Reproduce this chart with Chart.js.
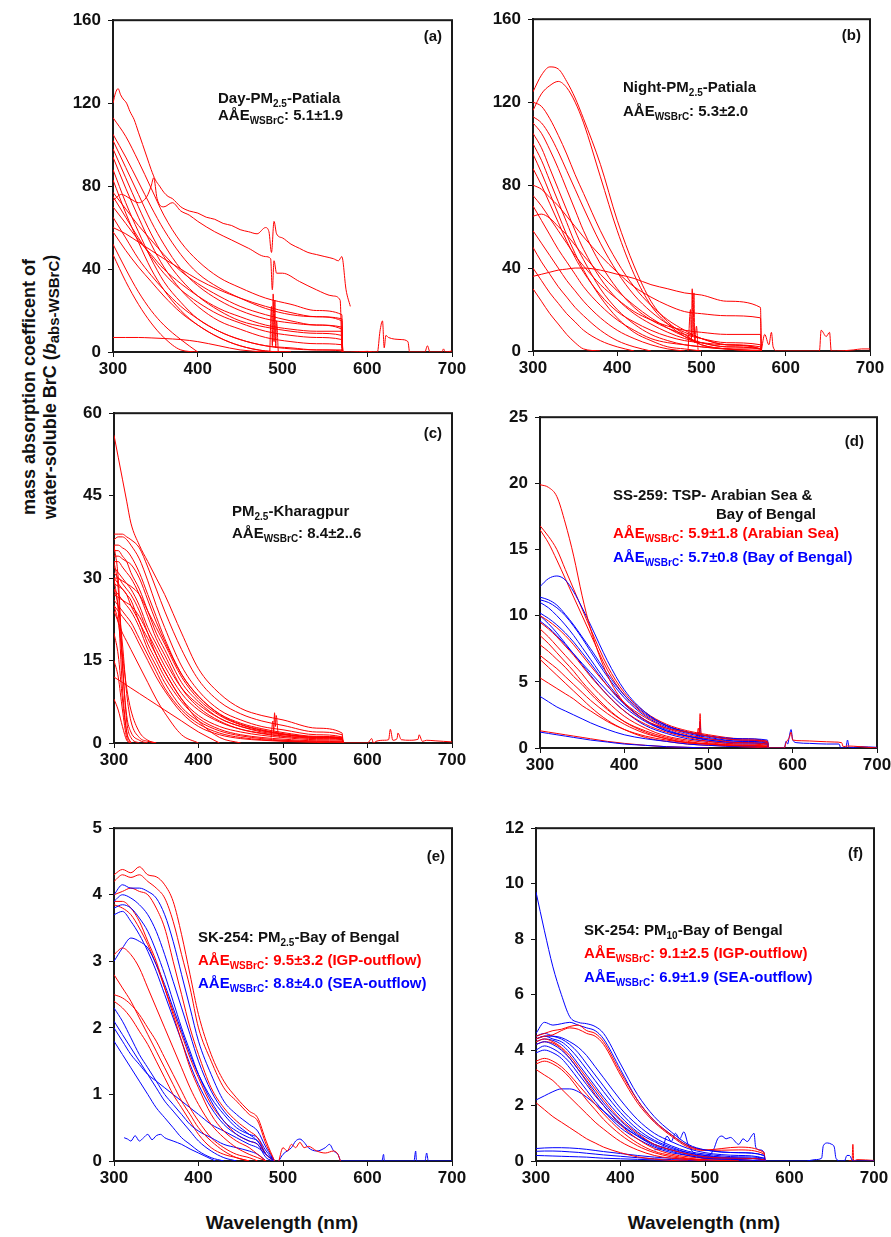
<!DOCTYPE html>
<html>
<head>
<meta charset="utf-8">
<script src="https://cdn.jsdelivr.net/npm/chart.js@4.4.1/dist/chart.umd.min.js"></script>
<style>
  body { margin: 0; background: #fff; width: 891px; height: 1237px; position: relative; overflow: hidden;
         font-family: "Liberation Sans", Arial, sans-serif; }
  .panel { position: absolute; }
  #ytitle { position: absolute; left: -115px; top: 366px; width: 310px; text-align: center;
            font-weight: bold; font-size: 18px; line-height: 21px; transform: rotate(-90deg); color: #111; }
  #ytitle sub { font-size: 15px; vertical-align: -3px; line-height: 0; }
  .xtitle { position: absolute; top: 1212px; width: 220px; text-align: center; font-weight: bold; font-size: 19px; color: #111; }
</style>
</head>
<body>
<div id="ytitle">mass absorption coefficent of<br>water-soluble BrC (<i>b</i><sub>abs-WSBrC</sub>)</div>
<div class="xtitle" style="left:172px">Wavelength (nm)</div>
<div class="xtitle" style="left:594px">Wavelength (nm)</div>

<script>
// ---------- shared axis ----------
const xTicks = [300, 400, 500, 600, 700];

// ---------- (a) Day-PM2.5-Patiala ----------
const aWave = [300, 315, 330, 345, 360, 380, 400, 425, 450, 480, 510, 540, 570, 571];
const a1 = [113, 104, 92, 79, 66, 53, 44, 36, 31, 26, 23, 20, 18, 0];
const a2 = [105, 94, 82, 70, 59, 47, 38, 31, 26, 21, 18, 17, 16, 0];
const a3 = [102, 89, 76, 63, 52, 40, 32, 25, 20, 16, 14, 13, 12, 0];
const a4 = [98, 84, 70, 57, 46, 35, 27, 20, 15, 12, 10, 9, 8, 0];
const a5 = [94, 79, 65, 52, 41, 30, 22, 15, 11, 7, 5, 4, 3.5, 0];
const a6 = [88, 72, 58, 45, 34, 24, 16, 10, 6, 3, 1.5, 1, 0.5, 0];
const a7 = [83, 67, 53, 40, 30, 20, 13, 7, 3, 0.5, 0];
const a8 = [77, 69, 61, 54, 47, 39, 33, 27, 22, 18, 15, 13, 11, 0];
const a9 = [75, 65, 55, 46, 38, 30, 24, 18, 14, 10, 8, 7, 6, 0];
const a10 = [70, 62, 54, 47, 40, 33, 27, 21, 17, 13, 11, 10, 10, 0];
const a11 = [65, 55, 45, 37, 30, 22, 16, 10, 6, 3, 2, 1, 1, 0];
const a12 = [60, 57, 53, 49, 45, 40, 35, 30, 26, 22, 19, 17, 15, 0];
const a13 = [58, 49, 41, 34, 27, 19, 13, 7, 3, 0.5, 0];
const a14 = [52, 40, 29, 20, 13, 6, 0];
const a15 = [47, 34, 23, 14, 7, 1, 0];
const a16 = [7, 7, 7, 6.8, 6.5, 6, 5, 3, 1, 0];
const aNoisy1X = [300, 303, 306, 309, 312, 316, 320, 325, 330, 335, 340, 345, 350, 355, 360, 365, 370, 375, 380, 390, 400, 410, 420, 430, 440, 450, 460, 470, 480, 484, 487, 490, 493, 500, 510, 520, 530, 540, 550, 560, 566, 570, 575, 580];
const aNoisy1Y = [120, 125, 127, 124, 122, 120, 116, 112, 106, 100, 94, 88, 83, 80, 77, 75, 74, 72, 70, 68, 67, 65, 64, 62, 61, 59, 58, 57, 60, 58, 48, 63, 57, 55, 52, 50, 48, 47, 46, 45, 44, 46, 30, 22];
const aNoisy2X = [300, 310, 320, 330, 340, 345, 348, 352, 360, 370, 380, 390, 400, 420, 440, 460, 480, 486, 488, 490, 493, 500, 520, 540, 560, 568, 570];
const aNoisy2Y = [73, 76, 74, 72, 75, 80, 84, 74, 70, 72, 68, 66, 63, 58, 54, 50, 46, 45, 30, 44, 38, 38, 34, 30, 27, 25, 0];
const aSpikeX = [485, 487, 488, 489, 490, 491, 492, 493, 495];
const aSpikeY = [0, 22, 3, 28, 5, 25, 2, 15, 0];
const aTailX = [571, 580, 600, 612, 615, 618, 620, 622, 625, 640, 648, 650, 660, 668, 671, 674, 688, 690, 692, 700];
const aTailY = [0, 0, 0.3, 0, 10, 15, 2, 8, 7, 6, 5, 0, 0, 0, 3, 0, 0, 1.5, 0, 0.5];

// ---------- (b) Night-PM2.5-Patiala ----------
const bWave = [300, 310, 320, 330, 340, 350, 360, 380, 400, 420, 440, 460, 480, 500, 530, 570, 571];
const b1 = [125, 133, 137, 136, 130, 122, 112, 90, 63, 41, 24, 14, 8, 3, 1, 0];
const b2 = [116, 124, 128, 130, 127, 120, 110, 84, 58, 37, 22, 13, 7, 3, 1, 0];
const b3 = [120, 118, 112, 104, 95, 85, 76, 58, 43, 31, 22, 15, 10, 6, 3, 1, 0];
const b4 = [113, 110, 104, 96, 87, 78, 69, 52, 38, 27, 19, 13, 9, 6, 3, 1, 0];
const b5 = [110, 105, 97, 88, 78, 68, 58, 42, 30, 21, 15, 11, 8, 6, 4, 3, 0];
const b6 = [105, 98, 88, 78, 68, 58, 49, 35, 25, 18, 13, 9, 6, 4, 2, 1, 0];
const b7 = [100, 92, 82, 72, 62, 52, 44, 30, 20, 13, 8, 5, 3, 2, 1, 0];
const b8 = [95, 86, 76, 66, 56, 47, 39, 26, 16, 9, 5, 2, 1, 0];
const b9 = [88, 80, 71, 62, 53, 45, 38, 27, 19, 14, 10, 7, 5, 4, 3, 2, 0];
const b10 = [36, 37, 38, 39, 39.5, 40, 40, 39, 37, 35, 32, 30, 28, 27, 24, 21, 0];
const b11 = [80, 78, 74, 70, 65, 60, 55, 46, 38, 31, 26, 22, 19, 18, 17, 16, 0];
const b12 = [75, 70, 64, 58, 52, 46, 41, 32, 25, 19, 15, 12, 10, 9, 8, 8, 0];
const b13 = [70, 63, 56, 49, 43, 37, 31, 22, 15, 10, 6, 4, 3, 2, 1, 1, 0];
const b14 = [65, 66, 64, 60, 56, 51, 46, 37, 29, 22, 16, 11, 7, 4, 2, 1, 0];
const b15 = [58, 52, 46, 40, 34, 29, 24, 16, 10, 6, 3, 1, 0];
const b16 = [50, 43, 37, 31, 26, 21, 17, 10, 5, 2, 0];
const b17 = [30, 24, 18, 13, 8, 4, 1, 0];
const b18 = [40, 34, 28, 23, 18, 14, 10, 5, 2, 0];
const bSpikeX = [484, 487, 488, 489, 490, 491, 492, 494, 496];
const bSpikeY = [0, 20, 5, 30, 8, 28, 4, 12, 0];
const bTailX = [571, 575, 580, 583, 585, 590, 640, 642, 648, 652, 654, 656, 660, 680, 690, 700];
const bTailY = [0, 8, 3, 9, 2, 0, 0, 10, 7, 9, 0, 0, 0, 0.5, 1, 1];

// ---------- (c) PM2.5-Kharagpur ----------
const cWave = [300, 305, 310, 315, 320, 330, 340, 350, 360, 380, 400, 425, 450, 475, 500, 540, 570, 571];
const c1 = [56, 52, 48, 44, 40, 36, 33, 30, 27, 20, 13.5, 9, 6.3, 5, 4.2, 2.7, 1.8, 0];
const c2 = [38, 38, 38, 37.5, 37, 35.5, 32, 28, 24, 17, 11.5, 7.5, 5.3, 4, 3.2, 2, 1.5, 0];
const c3 = [37, 37.5, 37.5, 37, 36, 33.5, 29.5, 25, 21, 14, 9.5, 6, 4.2, 3, 2.4, 1.5, 1.1, 0];
const c4 = [36, 36, 35.5, 35, 34, 31, 27, 23, 19, 12.5, 8.5, 5.3, 3.6, 2.6, 1.9, 1.2, 1, 0];
const c5 = [35, 35, 34, 33, 31, 28, 24, 20, 17, 11, 7.5, 4.5, 3, 2, 1.5, 1, 0.8, 0];
const c6 = [33, 33, 32, 31, 30, 27, 23, 19, 16, 10, 6.5, 4, 2.5, 1.7, 1.2, 0.8, 0.6, 0];
const c7 = [32, 31, 30, 29, 28, 25, 21, 18, 15, 10, 7, 4.5, 3, 2.2, 1.6, 1.1, 0.9, 0];
const c8 = [30, 30, 29, 28, 27, 24, 20, 16, 13, 8, 5, 3, 2, 1.4, 1, 0.6, 0.5, 0];
const c9 = [29, 28.5, 28, 27, 25, 22, 18, 15, 12, 7.5, 4.5, 2.5, 1.5, 1, 0.7, 0.4, 0.3, 0];
const c10 = [28, 27, 26, 25, 24, 21, 17, 14, 11, 6.5, 4, 2.2, 1.3, 0.8, 0.5, 0.3, 0.2, 0];
const c11 = [27, 26.5, 26, 25.5, 25, 23, 20, 17, 14, 9, 6, 3.8, 2.5, 1.8, 1.3, 0.9, 0.7, 0];
const c12 = [26, 25, 24, 23, 22, 19, 16, 13, 10, 6, 3.5, 1.8, 1, 0.6, 0.4, 0.2, 0.1, 0];
const c13 = [25, 24, 23, 22, 21, 18, 15, 12, 9.5, 5.5, 3, 1.5, 0.8, 0.5, 0.3, 0.1, 0];
const c14 = [31, 30, 29.5, 29, 28.5, 27, 24, 21, 18, 12, 8, 5, 3.3, 2.3, 1.6, 1.0, 0.8, 0];
const c15 = [34, 34, 33.5, 33, 32.5, 30, 26, 22, 18.5, 12.5, 8.5, 5.2, 3.4, 2.4, 1.7, 1.1, 0.9, 0];
const c16 = [12, 11.5, 11, 10.5, 10, 9, 8, 7, 6, 4, 2, 0];
const c17 = [24, 22, 20, 18.5, 17, 14, 11, 8, 5.5, 1.5, 0];
const c18 = [30, 29, 28, 27, 26, 22, 19, 16, 13, 8, 4, 1, 0];
const c19 = [36, 30, 15, 4, 1, 0];
const c20 = [33, 28, 14, 5, 2, 0.5, 0];
const c21 = [30, 24, 10, 2, 0];
const c22 = [28, 25, 18, 9, 4, 1, 0.3, 0];
const c23 = [25, 22, 16, 10, 6, 2, 0.5, 0];
const c24 = [20, 16, 8, 2, 0];
const c25 = [15, 12, 6, 1, 0];
const c26 = [8, 6, 3, 0.5, 0];
const cSpikeX = [486, 488, 489, 490, 491, 492, 494, 496];
const cSpikeY = [1, 4, 2, 5.5, 3, 5, 2, 1];
const cTailX = [571, 600, 605, 607, 610, 620, 625, 627, 630, 635, 636, 640, 650, 660, 661, 665, 670, 680, 690, 700];
const cTailY = [0, 0, 0.8, 0, 0.3, 0.5, 0.6, 2.5, 0.5, 0.8, 1.8, 0.6, 0.5, 0.7, 1.5, 0.3, 0.5, 0.4, 0.3, 0.2];

// ---------- (d) SS-259 TSP, red = Arabian Sea, blue = Bay of Bengal ----------
const dWave = [300, 310, 320, 330, 340, 350, 360, 380, 400, 425, 450, 475, 500, 540, 570, 571];
const dRed1 = [19.9, 19.7, 19, 17, 14.5, 11.5, 9, 5.5, 3.4, 2.1, 1.5, 1.2, 0.9, 0.6, 0.5, 0];
const dRed2 = [16.8, 16, 15, 13.5, 12, 10.5, 9, 6.2, 4.2, 2.7, 1.8, 1.3, 1.0, 0.7, 0.5, 0];
const dRed3 = [16.5, 15.5, 14.2, 12.8, 11.4, 10, 8.6, 5.9, 4.0, 2.5, 1.7, 1.2, 0.9, 0.6, 0.4, 0];
const dRed4 = [10, 9.6, 9.1, 8.5, 7.8, 7.0, 6.2, 4.7, 3.4, 2.3, 1.5, 1.0, 0.7, 0.4, 0.3, 0];
const dRed5 = [9.5, 9.0, 8.4, 7.7, 7.0, 6.2, 5.4, 4.0, 2.8, 1.8, 1.2, 0.8, 0.5, 0.3, 0.2, 0];
const dRed6 = [9, 8.4, 7.7, 7.0, 6.3, 5.6, 4.8, 3.5, 2.4, 1.5, 0.9, 0.6, 0.4, 0.2, 0.15, 0];
const dRed7 = [8.5, 7.9, 7.2, 6.5, 5.8, 5.0, 4.3, 3.0, 2.0, 1.2, 0.7, 0.4, 0.3, 0.15, 0.1, 0];
const dRed8 = [7.8, 7.3, 6.7, 6.1, 5.4, 4.8, 4.1, 2.9, 2.0, 1.3, 0.8, 0.5, 0.3, 0.2, 0.1, 0];
const dRed9 = [7, 6.5, 6.0, 5.4, 4.8, 4.2, 3.6, 2.6, 1.8, 1.1, 0.7, 0.4, 0.3, 0.1, 0.1, 0];
const dRed10 = [6.7, 6.1, 5.5, 4.9, 4.3, 3.7, 3.1, 2.1, 1.4, 0.8, 0.5, 0.3, 0.2, 0.1, 0];
const dRed11 = [5.3, 4.9, 4.5, 4.1, 3.7, 3.2, 2.8, 2.0, 1.4, 0.9, 0.6, 0.4, 0.3, 0.2, 0.1, 0];
const dRed12 = [1.3, 1.2, 1.1, 1.0, 0.9, 0.8, 0.7, 0.5, 0.35, 0.2, 0.1, 0.05, 0];
const dBlue1 = [12.2, 12.8, 13, 12.7, 11.8, 10.6, 9.3, 6.6, 4.4, 2.7, 1.7, 1.2, 0.9, 0.7, 0.6, 0];
const dBlue2 = [11.4, 11.2, 10.8, 10.1, 9.3, 8.4, 7.5, 5.6, 4.0, 2.6, 1.7, 1.2, 0.9, 0.6, 0.5, 0];
const dBlue3 = [11.2, 11.0, 10.6, 10.0, 9.2, 8.3, 7.3, 5.4, 3.8, 2.4, 1.6, 1.1, 0.8, 0.5, 0.4, 0];
const dBlue4 = [11, 10.6, 10.0, 9.3, 8.5, 7.6, 6.7, 4.9, 3.4, 2.1, 1.3, 0.9, 0.6, 0.4, 0.3, 0];
const dBlue5 = [10.2, 9.8, 9.3, 8.7, 8.0, 7.2, 6.4, 4.7, 3.3, 2.1, 1.4, 0.9, 0.7, 0.5, 0.4, 0];
const dBlue6 = [10, 9.4, 8.7, 7.9, 7.1, 6.3, 5.5, 4.0, 2.8, 1.7, 1.1, 0.7, 0.5, 0.3, 0.3, 0];
const dBlue7 = [9.6, 9.1, 8.5, 7.8, 7.1, 6.4, 5.7, 4.3, 3.1, 2.0, 1.3, 0.9, 0.6, 0.4, 0.3, 0];
const dBlue8 = [3.9, 3.5, 3.1, 2.8, 2.5, 2.2, 1.9, 1.4, 1.0, 0.7, 0.5, 0.3, 0.2, 0.1, 0.1, 0];
const dBlue9 = [1.2, 1.1, 1.0, 0.9, 0.8, 0.7, 0.6, 0.45, 0.3, 0.2, 0.1, 0.05, 0];
const dSpikeX = [486, 488, 489, 490, 491, 493];
const dSpikeRedY = [0.8, 1.5, 1.0, 2.6, 1.2, 0.8];
const dSpikeBlueY = [0.6, 1.2, 0.8, 2.0, 1.0, 0.6];
const dTailRedX = [571, 590, 592, 596, 598, 600, 610, 630, 650, 658, 660, 665, 680, 700];
const dTailRedY = [0, 0, 0.4, 0.8, 1.2, 0.6, 0.55, 0.5, 0.45, 0.4, 0.1, 0.15, 0.1, 0];
const dTailBlueX = [571, 590, 592, 594, 596, 598, 600, 605, 620, 640, 655, 657, 663, 665, 667, 680, 700];
const dTailBlueY = [0, 0, 0.5, 0.3, 0.9, 1.4, 0.6, 0.4, 0.35, 0.3, 0.3, 0, 0, 0.6, 0, 0.1, 0.05];

// ---------- (e) SK-254 PM2.5, red = IGP-outflow, blue = SEA-outflow ----------
const eWave = [300, 310, 320, 330, 340, 350, 360, 370, 380, 390, 400, 415, 430, 445, 460, 470, 480, 490];
const eRed1 = [4.3, 4.38, 4.33, 4.42, 4.3, 4.27, 4.15, 3.9, 3.4, 2.8, 2.2, 1.6, 1.2, 0.95, 0.75, 0.65, 0.3, 0];
const eRed2 = [4.2, 4.3, 4.26, 4.3, 4.2, 4.1, 3.95, 3.6, 3.1, 2.6, 2.0, 1.5, 1.1, 0.9, 0.7, 0.6, 0.25, 0];
const eRed3 = [4.0, 4.05, 4.1, 4.05, 4.0, 3.8, 3.5, 3.0, 2.5, 2.0, 1.6, 1.1, 0.8, 0.6, 0.45, 0.35, 0.1, 0];
const eRed4 = [3.9, 3.9, 3.8, 3.6, 3.3, 3.0, 2.6, 2.2, 1.8, 1.4, 1.1, 0.7, 0.45, 0.3, 0.2, 0.1, 0];
const eRed5 = [3.1, 3.2, 3.1, 2.9, 2.6, 2.3, 2.0, 1.7, 1.4, 1.1, 0.85, 0.55, 0.35, 0.2, 0.1, 0.05, 0];
const eRed6 = [2.8, 2.6, 2.4, 2.15, 1.9, 1.65, 1.4, 1.15, 0.9, 0.7, 0.5, 0.3, 0.15, 0.05, 0];
const eRed7 = [2.5, 2.45, 2.35, 2.2, 2.0, 1.8, 1.55, 1.3, 1.05, 0.8, 0.6, 0.35, 0.2, 0.1, 0.05, 0];
const eRed8 = [2.4, 2.3, 2.15, 1.95, 1.75, 1.5, 1.25, 1.0, 0.8, 0.6, 0.4, 0.2, 0.1, 0.05, 0];
const eRed9 = [3.85, 3.8, 3.7, 3.5, 3.25, 2.95, 2.6, 2.25, 1.9, 1.55, 1.25, 0.85, 0.6, 0.4, 0.3, 0.25, 0.1, 0];
const eBlue1 = [4.0, 4.15, 4.1, 4.1, 4.05, 3.95, 3.7, 3.3, 2.8, 2.3, 1.8, 1.3, 0.9, 0.7, 0.55, 0.45, 0.2, 0];
const eBlue2 = [3.9, 4.0, 3.95, 3.85, 3.7, 3.45, 3.1, 2.7, 2.3, 1.9, 1.5, 1.05, 0.75, 0.55, 0.4, 0.3, 0.1, 0];
const eBlue3 = [3.8, 3.85, 3.8, 3.65, 3.45, 3.15, 2.8, 2.4, 2.0, 1.65, 1.3, 0.9, 0.6, 0.45, 0.35, 0.3, 0.1, 0];
const eBlue4 = [3.7, 3.75, 3.6, 3.4, 3.15, 2.85, 2.5, 2.15, 1.8, 1.45, 1.15, 0.8, 0.55, 0.4, 0.3, 0.25, 0.05, 0];
const eBlue5 = [3.0, 3.2, 3.35, 3.3, 3.2, 2.95, 2.65, 2.3, 1.95, 1.6, 1.3, 0.95, 0.7, 0.5, 0.4, 0.35, 0.15, 0];
const eBlue6 = [2.3, 2.1, 1.85, 1.6, 1.4, 1.2, 1.0, 0.85, 0.7, 0.55, 0.45, 0.35, 0.25, 0.2, 0.15, 0.1, 0];
const eBlue7 = [2.1, 1.9, 1.7, 1.5, 1.3, 1.1, 0.9, 0.75, 0.6, 0.45, 0.3, 0.15, 0.05, 0];
const eBlue8 = [1.8, 1.6, 1.4, 1.2, 1.0, 0.8, 0.65, 0.5, 0.35, 0.25, 0.15, 0.05, 0];
const eBlue9 = [2.0, 1.8, 1.6, 1.45, 1.3, 1.2, 1.1, 1.0, 0.9, 0.8, 0.7, 0.55, 0.45, 0.35, 0.25, 0.2, 0.1, 0];
const eLowX = [312, 316, 320, 325, 330, 335, 340, 345, 350, 355, 360, 370, 380, 390, 400, 410, 420];
const eLowY = [0.35, 0.33, 0.3, 0.38, 0.3, 0.35, 0.4, 0.32, 0.38, 0.4, 0.35, 0.3, 0.25, 0.18, 0.12, 0.06, 0];
const eBumpRedX = [495, 500, 505, 510, 515, 520, 525, 530, 540, 550, 560, 565, 568];
const eBumpRedY = [0, 0.2, 0.15, 0.25, 0.2, 0.28, 0.2, 0.22, 0.15, 0.12, 0.15, 0.1, 0];
const eBumpBlueX = [495, 500, 510, 515, 520, 525, 530, 540, 550, 555, 560, 565, 568];
const eBumpBlueY = [0, 0.1, 0.2, 0.3, 0.33, 0.28, 0.2, 0.15, 0.2, 0.25, 0.15, 0.1, 0];
const eTailX = [568, 617, 619, 620, 655, 657, 658, 668, 670, 672, 700];
const eTailY = [0, 0, 0.1, 0, 0, 0.15, 0, 0, 0.12, 0, 0];

// ---------- (f) SK-254 PM10, red = IGP-outflow, blue = SEA-outflow ----------
const fWave = [300, 310, 320, 330, 340, 350, 360, 370, 380, 400, 420, 440, 460, 480, 500, 540, 570, 571];
const fBlue1 = [9.7, 8.3, 7.0, 6.0, 5.2, 5.0, 4.95, 4.85, 4.6, 3.5, 2.4, 1.6, 1.05, 0.6, 0.4, 0.3, 0.2, 0];
const fBlue2 = [4.6, 5.0, 4.9, 4.95, 5.0, 4.9, 4.8, 4.7, 4.4, 3.3, 2.2, 1.45, 0.95, 0.55, 0.4, 0.3, 0.2, 0];
const fBlue3 = [4.5, 4.6, 4.5, 4.4, 4.2, 3.9, 3.5, 3.1, 2.7, 1.9, 1.3, 0.85, 0.55, 0.35, 0.25, 0.15, 0.1, 0];
const fBlue4 = [4.4, 4.5, 4.4, 4.3, 4.05, 3.7, 3.3, 2.9, 2.5, 1.75, 1.15, 0.75, 0.5, 0.3, 0.2, 0.1, 0.05, 0];
const fBlue5 = [4.3, 4.4, 4.35, 4.2, 3.9, 3.5, 3.1, 2.7, 2.3, 1.6, 1.05, 0.7, 0.45, 0.3, 0.2, 0.1, 0.05, 0];
const fBlue6 = [4.2, 4.3, 4.2, 4.0, 3.7, 3.3, 2.9, 2.5, 2.1, 1.45, 0.95, 0.6, 0.4, 0.25, 0.15, 0.1, 0.05, 0];
const fBlue7 = [4.0, 4.15, 4.05, 3.85, 3.55, 3.15, 2.75, 2.35, 2.0, 1.35, 0.9, 0.55, 0.35, 0.2, 0.1, 0.05, 0];
const fBlue8 = [3.9, 4.0, 3.9, 3.7, 3.35, 2.95, 2.55, 2.15, 1.8, 1.2, 0.8, 0.5, 0.3, 0.2, 0.1, 0.05, 0];
const fBlue9 = [4.4, 4.5, 4.5, 4.45, 4.3, 4.1, 3.8, 3.4, 3.0, 2.2, 1.5, 1.0, 0.7, 0.45, 0.3, 0.2, 0.1, 0];
const fBlue10 = [2.2, 2.35, 2.5, 2.6, 2.6, 2.5, 2.3, 2.05, 1.8, 1.3, 0.9, 0.6, 0.4, 0.25, 0.15, 0.1, 0.05, 0];
const fBlue11 = [0.45, 0.47, 0.48, 0.48, 0.47, 0.45, 0.42, 0.38, 0.34, 0.27, 0.2, 0.14, 0.1, 0.06, 0.04, 0.02, 0];
const fBlue12 = [0.35, 0.36, 0.36, 0.35, 0.33, 0.31, 0.28, 0.25, 0.22, 0.17, 0.12, 0.08, 0.05, 0.03, 0.02, 0];
const fBlue13 = [0.2, 0.19, 0.18, 0.17, 0.16, 0.15, 0.14, 0.12, 0.1, 0.08, 0.06, 0.04, 0.02, 0.01, 0];
const fRed1 = [4.5, 4.6, 4.7, 4.75, 4.85, 4.9, 4.7, 4.6, 4.3, 3.2, 2.2, 1.45, 0.95, 0.55, 0.4, 0.5, 0.3, 0];
const fRed2 = [4.4, 4.5, 4.55, 4.7, 4.8, 4.75, 4.6, 4.5, 4.2, 3.1, 2.1, 1.4, 0.9, 0.5, 0.38, 0.4, 0.25, 0];
const fRed3 = [4.3, 4.4, 4.3, 4.1, 3.8, 3.4, 3.0, 2.6, 2.2, 1.5, 1.0, 0.6, 0.4, 0.25, 0.15, 0.1, 0.05, 0];
const fRed4 = [3.5, 3.6, 3.5, 3.3, 3.0, 2.6, 2.2, 1.85, 1.5, 0.95, 0.55, 0.3, 0.15, 0.08, 0.04, 0];
const fRed5 = [3.3, 3.1, 2.9, 2.6, 2.3, 2.0, 1.7, 1.4, 1.15, 0.7, 0.4, 0.2, 0.1, 0.05, 0];
const fRed6 = [2.1, 1.85, 1.6, 1.4, 1.2, 1.0, 0.8, 0.65, 0.5, 0.3, 0.15, 0.07, 0.02, 0];
const fRed7 = [4.2, 4.3, 4.25, 4.05, 3.7, 3.3, 2.85, 2.4, 2.0, 1.3, 0.8, 0.45, 0.25, 0.15, 0.1, 0.05, 0];
const fRed8 = [3.6, 3.7, 3.6, 3.4, 3.1, 2.75, 2.4, 2.05, 1.7, 1.1, 0.65, 0.35, 0.2, 0.1, 0.05, 0];
const fBumpBlueX = [440, 450, 455, 460, 465, 470, 475, 480, 490, 500, 510, 515, 520, 525, 530, 540, 545, 550, 555, 558, 560, 565, 570, 571];
const fBumpBlueY = [0.4, 0.5, 0.9, 0.7, 1.0, 0.8, 1.05, 0.6, 0.2, 0.1, 0.4, 0.8, 0.9, 0.8, 0.85, 0.6, 0.8, 0.7, 0.9, 1.0, 0.5, 0.4, 0.3, 0];
const fTailBlueX = [571, 620, 630, 638, 640, 645, 650, 653, 655, 660, 665, 668, 671, 675, 700];
const fTailBlueY = [0, 0, 0.05, 0.1, 0.55, 0.65, 0.6, 0.5, 0.1, 0, 0, 0.2, 0.2, 0, 0];
const fTailRedX = [670, 674, 675, 676, 680, 700];
const fTailRedY = [0, 0, 0.6, 0, 0.05, 0.02];

// ---------- drawing ----------
const RED = '#ff0000';
const BLUE = '#0000ff';
const FONT = '"Liberation Sans", Arial, sans-serif';

function line(xs, ys, color) {
  return {
    data: ys.map((y, i) => ({ x: xs[i], y: y })),
    borderColor: color,
    borderWidth: 1,
    pointRadius: 0,
    fill: false,
    cubicInterpolationMode: 'monotone'
  };
}

function drawRich(ctx, parts, x, y, color) {
  ctx.fillStyle = color;
  parts.forEach(p => {
    const sub = p.charAt(0) === '_';
    const t = sub ? p.slice(1) : p;
    ctx.font = 'bold ' + (sub ? 10 : 15) + 'px ' + FONT;
    ctx.fillText(t, x, sub ? y + 4 : y);
    x += ctx.measureText(t).width;
  });
}

const frameAndNotes = {
  id: 'frameAndNotes',
  beforeDatasetsDraw(chart) {
    const ctx = chart.ctx, ca = chart.chartArea;
    ctx.save();
    ctx.strokeStyle = '#1a1a1a';
    ctx.lineWidth = 2;
    ctx.strokeRect(ca.left, ca.top, ca.right - ca.left, ca.bottom - ca.top);
    ctx.restore();
  },
  afterDraw(chart, args, opts) {
    const ctx = chart.ctx, ca = chart.chartArea;
    ctx.save();
    ctx.textBaseline = 'alphabetic';
    ctx.textAlign = 'left';
    (opts.lines || []).forEach(l => drawRich(ctx, l.parts, ca.left + l.x, ca.top + l.y, l.color || '#111'));
    ctx.textAlign = 'right';
    ctx.font = 'bold 15px ' + FONT;
    ctx.fillStyle = '#111';
    ctx.fillText(opts.tag, ca.left + opts.tagX, ca.top + opts.tagY);
    ctx.restore();
  }
};

function makePanel(box, yMax, yStep, datasets, notes) {
  const padL = 60, padT = 12, padR = 25, padB = 40;
  const w = box[2] - box[0] + padL + padR;
  const h = box[3] - box[1] + padT + padB;
  const div = document.createElement('div');
  div.className = 'panel';
  div.style.left = (box[0] - padL) + 'px';
  div.style.top = (box[1] - padT) + 'px';
  div.style.width = w + 'px';
  div.style.height = h + 'px';
  const cv = document.createElement('canvas');
  cv.width = w; cv.height = h;
  cv.style.width = w + 'px'; cv.style.height = h + 'px';
  div.appendChild(cv);
  document.body.appendChild(div);

  const tickFont = { family: FONT, weight: 'bold', size: 17 };
  new Chart(cv.getContext('2d'), {
    type: 'line',
    data: { datasets: datasets },
    options: {
      responsive: false,
      animation: false,
      events: [],
      layout: { padding: { left: 0, top: padT, right: padR, bottom: 0 } },
      plugins: { legend: { display: false }, tooltip: { enabled: false }, frameAndNotes: notes },
      scales: {
        x: {
          type: 'linear', min: 300, max: 700,
          afterBuildTicks: s => { s.ticks = xTicks.map(v => ({ value: v })); },
          afterFit: s => { s.height = padB; },
          ticks: { font: tickFont, color: '#111', padding: 2, maxRotation: 0 },
          grid: { display: true, drawOnChartArea: false, drawTicks: true, tickLength: 5, color: '#111' },
          border: { display: true, color: '#1a1a1a', width: 2 }
        },
        y: {
          min: 0, max: yMax,
          afterFit: s => { s.width = padL; },
          ticks: { stepSize: yStep, font: tickFont, color: '#111', padding: 7 },
          grid: { display: true, drawOnChartArea: false, drawTicks: true, tickLength: 5, color: '#111' },
          border: { display: true, color: '#1a1a1a', width: 2 }
        }
      }
    },
    plugins: [frameAndNotes]
  });
}

const AAE = 'AÅE';

// (a)
makePanel([113, 15, 452, 352], 160, 40,
  [a1, a2, a3, a4, a5, a6, a7, a8, a9, a10, a11, a12, a13, a14, a15, a16].map(v => line(aWave, v, RED))
    .concat([line(aNoisy1X, aNoisy1Y, RED), line(aNoisy2X, aNoisy2Y, RED),
             line(aSpikeX, aSpikeY, RED), line(aTailX, aTailY, RED)]),
  { tag: '(a)', tagX: 329, tagY: 21, lines: [
    { x: 105, y: 83, parts: ['Day-PM', '_2.5', '-Patiala'] },
    { x: 105, y: 100, parts: [AAE, '_WSBrC', ': 5.1±1.9'] } ] });

// (b)
makePanel([533, 14, 870, 351], 160, 40,
  [b1, b2, b3, b4, b5, b6, b7, b8, b9, b10, b11, b12, b13, b14, b15, b16, b17, b18].map(v => line(bWave, v, RED))
    .concat([line(bSpikeX, bSpikeY, RED), line(bTailX, bTailY, RED)]),
  { tag: '(b)', tagX: 328, tagY: 21, lines: [
    { x: 90, y: 73, parts: ['Night-PM', '_2.5', '-Patiala'] },
    { x: 90, y: 97, parts: [AAE, '_WSBrC', ': 5.3±2.0'] } ] });

// (c)
makePanel([114, 408, 452, 743], 60, 15,
  [c1, c2, c3, c4, c5, c6, c7, c8, c9, c10, c11, c12, c13, c14, c15, c16, c17, c18,
   c19, c20, c21, c22, c23, c24, c25, c26].map(v => line(cWave, v, RED))
    .concat([line(cSpikeX, cSpikeY, RED), line(cTailX, cTailY, RED)]),
  { tag: '(c)', tagX: 328, tagY: 25, lines: [
    { x: 118, y: 103, parts: ['PM', '_2.5', '-Kharagpur'] },
    { x: 118, y: 125, parts: [AAE, '_WSBrC', ': 8.4±2..6'] } ] });

// (d)
const dReds = [dRed1, dRed2, dRed3, dRed4, dRed5, dRed6, dRed7, dRed8, dRed9, dRed10, dRed11, dRed12];
const dBlues = [dBlue1, dBlue2, dBlue3, dBlue4, dBlue5, dBlue6, dBlue7, dBlue8, dBlue9];
const dSets = [];
for (let i = 0; i < Math.max(dReds.length, dBlues.length); i++) {
  if (dReds[i]) dSets.push(line(dWave, dReds[i], RED));
  if (dBlues[i]) dSets.push(line(dWave, dBlues[i], BLUE));
}
makePanel([540, 412, 877, 748], 25, 5,
  dSets.concat([line(dSpikeX, dSpikeRedY, RED), line(dSpikeX, dSpikeBlueY, BLUE),
                line(dTailRedX, dTailRedY, RED), line(dTailBlueX, dTailBlueY, BLUE)]),
  { tag: '(d)', tagX: 324, tagY: 29, lines: [
    { x: 73, y: 83, parts: ['SS-259: TSP- Arabian Sea &'] },
    { x: 176, y: 102, parts: ['Bay of Bengal'] },
    { x: 73, y: 121, color: RED, parts: [AAE, '_WSBrC', ': 5.9±1.8 (Arabian Sea)'] },
    { x: 73, y: 145, color: BLUE, parts: [AAE, '_WSBrC', ': 5.7±0.8 (Bay of Bengal)'] } ] });

// (e)
const eReds = [eRed1, eRed2, eRed3, eRed4, eRed5, eRed6, eRed7, eRed8, eRed9];
const eBlues = [eBlue1, eBlue2, eBlue3, eBlue4, eBlue5, eBlue6, eBlue7, eBlue8, eBlue9];
const eSets = [];
for (let i = 0; i < eReds.length; i++) {
  eSets.push(line(eWave, eReds[i], RED));
  eSets.push(line(eWave, eBlues[i], BLUE));
}
makePanel([114, 823, 452, 1161], 5, 1,
  eSets.concat([line(eLowX, eLowY, BLUE), line(eBumpRedX, eBumpRedY, RED),
                line(eBumpBlueX, eBumpBlueY, BLUE), line(eTailX, eTailY, BLUE)]),
  { tag: '(e)', tagX: 331, tagY: 33, lines: [
    { x: 84, y: 114, parts: ['SK-254: PM', '_2.5', '-Bay of Bengal'] },
    { x: 84, y: 137, color: RED, parts: [AAE, '_WSBrC', ': 9.5±3.2 (IGP-outflow)'] },
    { x: 84, y: 160, color: BLUE, parts: [AAE, '_WSBrC', ': 8.8±4.0 (SEA-outflow)'] } ] });

// (f)
const fReds = [fRed1, fRed2, fRed3, fRed4, fRed5, fRed6, fRed7, fRed8];
const fBlues = [fBlue1, fBlue2, fBlue3, fBlue4, fBlue5, fBlue6, fBlue7, fBlue8, fBlue9, fBlue10, fBlue11, fBlue12, fBlue13];
const fSets = [];
for (let i = 0; i < fBlues.length; i++) {
  fSets.push(line(fWave, fBlues[i], BLUE));
  if (fReds[i]) fSets.push(line(fWave, fReds[i], RED));
}
makePanel([536, 823, 874, 1161], 12, 2,
  fSets.concat([line(fBumpBlueX, fBumpBlueY, BLUE), line(fTailBlueX, fTailBlueY, BLUE),
                line(fTailRedX, fTailRedY, RED)]),
  { tag: '(f)', tagX: 327, tagY: 30, lines: [
    { x: 48, y: 107, parts: ['SK-254: PM', '_10', '-Bay of Bengal'] },
    { x: 48, y: 130, color: RED, parts: [AAE, '_WSBrC', ': 9.1±2.5 (IGP-outflow)'] },
    { x: 48, y: 154, color: BLUE, parts: [AAE, '_WSBrC', ': 6.9±1.9 (SEA-outflow)'] } ] });
</script>
</body>
</html>
